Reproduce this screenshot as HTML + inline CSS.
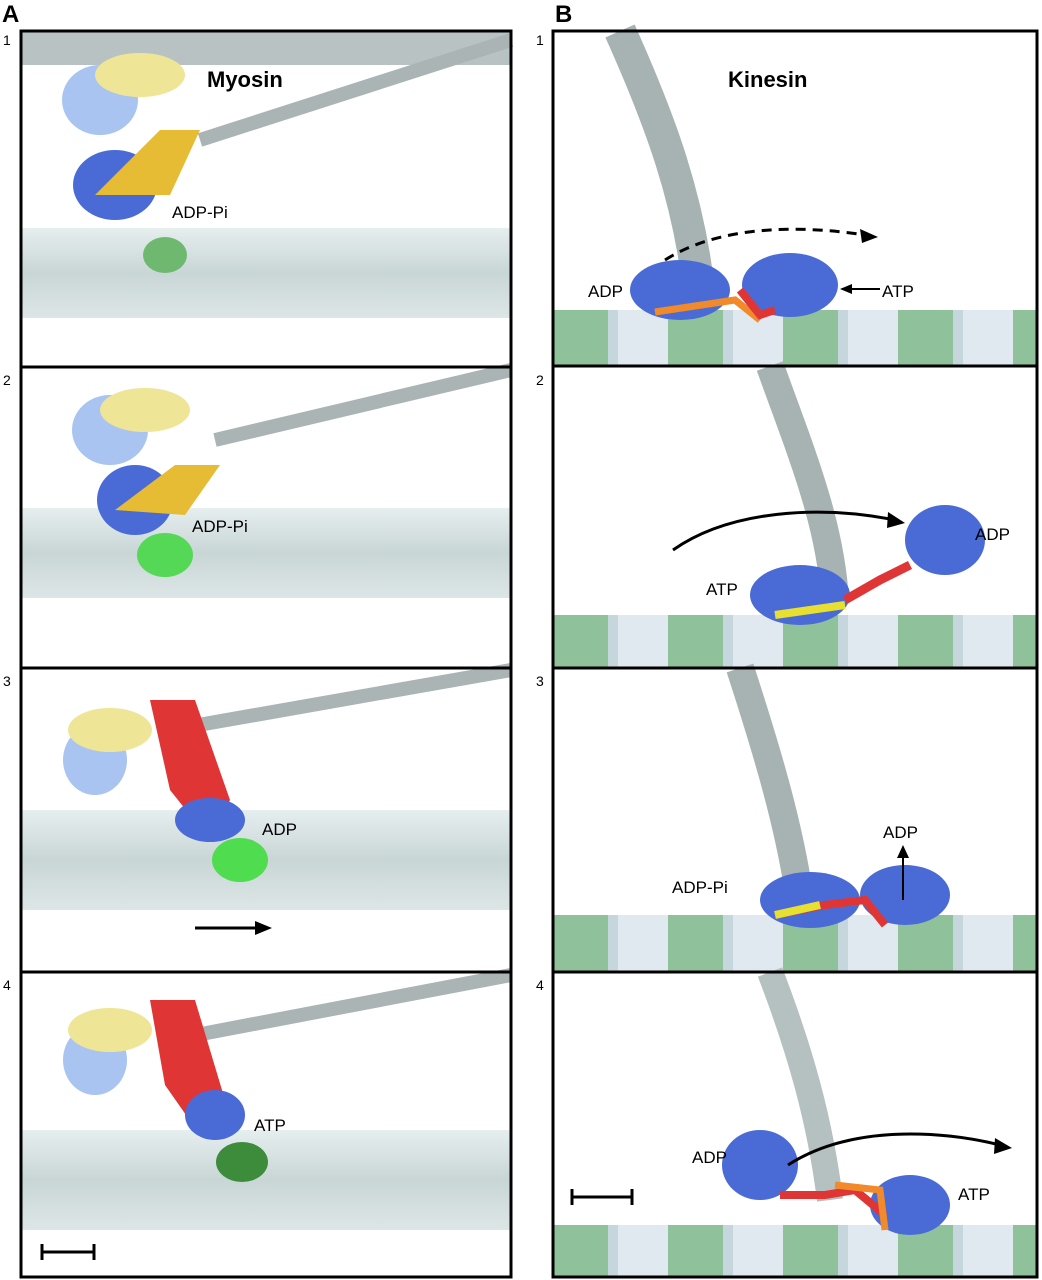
<!DOCTYPE html>
<html><head><meta charset="utf-8"><style>
html,body{margin:0;padding:0;background:#fff;}
svg{display:block;font-family:"Liberation Sans",sans-serif;}
</style></head><body>
<svg width="1042" height="1280" viewBox="0 0 1042 1280">
<defs>
<linearGradient id="actin" x1="0" y1="0" x2="0" y2="1"><stop offset="0" stop-color="#e6eeee"/><stop offset="0.5" stop-color="#c9d6d6"/><stop offset="1" stop-color="#dde6e6"/></linearGradient>
<pattern id="mt" x="553" y="0" width="115" height="60" patternUnits="userSpaceOnUse"><rect width="115" height="60" fill="#dfe9ef"/><rect x="0" width="55" height="60" fill="#8fc29a"/><rect x="55" width="10" height="60" fill="#c5d6dd"/></pattern>
</defs>
<rect width="1042" height="1280" fill="#fff"/>
<text x="2" y="22" font-size="24" font-weight="bold">A</text>
<text x="555" y="22" font-size="24" font-weight="bold">B</text>
<g font-size="14">
<text x="3" y="45">1</text><text x="3" y="385">2</text><text x="3" y="686">3</text><text x="3" y="990">4</text>
<text x="536" y="45">1</text><text x="536" y="385">2</text><text x="536" y="686">3</text><text x="536" y="990">4</text>
</g>
<g>
<rect x="21" y="31" width="490" height="1246" fill="#fff"/>
<rect x="21" y="31" width="490" height="34" fill="#b8c2c2"/>
<path d="M200 140 L511 40" stroke="#aab4b4" stroke-width="14"/>
<path d="M215 440 L511 370" stroke="#aab4b4" stroke-width="14"/>
<path d="M170 730 L511 670" stroke="#aab4b4" stroke-width="14"/>
<path d="M170 1040 L511 975" stroke="#aab4b4" stroke-width="14"/>
<rect x="21" y="228" width="490" height="90" fill="url(#actin)"/>
<rect x="21" y="508" width="490" height="90" fill="url(#actin)"/>
<rect x="21" y="810" width="490" height="100" fill="url(#actin)"/>
<rect x="21" y="1130" width="490" height="100" fill="url(#actin)"/>
<ellipse cx="100" cy="100" rx="38" ry="35" fill="#a9c4f0"/><ellipse cx="140" cy="75" rx="45" ry="22" fill="#efe596"/>
<ellipse cx="115" cy="185" rx="42" ry="35" fill="#4a6bd6"/><path d="M95 195 L160 130 L200 130 L170 195 Z" fill="#e6bc34"/>
<ellipse cx="165" cy="255" rx="22" ry="18" fill="#6fb86f"/>
<ellipse cx="110" cy="430" rx="38" ry="35" fill="#a9c4f0"/><ellipse cx="145" cy="410" rx="45" ry="22" fill="#efe596"/>
<ellipse cx="135" cy="500" rx="38" ry="35" fill="#4a6bd6"/><path d="M115 510 L175 465 L220 465 L185 515 Z" fill="#e6bc34"/>
<ellipse cx="165" cy="555" rx="28" ry="22" fill="#55d855"/>
<ellipse cx="95" cy="760" rx="32" ry="35" fill="#a9c4f0"/><ellipse cx="110" cy="730" rx="42" ry="22" fill="#efe596"/>
<path d="M150 700 L195 700 L230 800 L210 840 L170 790 Z" fill="#e03535"/><ellipse cx="210" cy="820" rx="35" ry="22" fill="#4a6bd6"/>
<ellipse cx="240" cy="860" rx="28" ry="22" fill="#4fdc4f"/>
<ellipse cx="95" cy="1060" rx="32" ry="35" fill="#a9c4f0"/><ellipse cx="110" cy="1030" rx="42" ry="22" fill="#efe596"/>
<path d="M150 1000 L195 1000 L225 1100 L200 1135 L165 1085 Z" fill="#e03535"/><ellipse cx="215" cy="1115" rx="30" ry="25" fill="#4a6bd6"/>
<ellipse cx="242" cy="1162" rx="26" ry="20" fill="#3c8c3c"/>
<text x="207" y="87" font-size="22" font-weight="bold">Myosin</text>
<text x="172" y="218" font-size="17">ADP-Pi</text>
<text x="192" y="532" font-size="17">ADP-Pi</text>
<text x="262" y="835" font-size="17">ADP</text>
<text x="254" y="1131" font-size="17">ATP</text>
<path d="M195 928 L262 928" stroke="#000" stroke-width="3"/><path d="M272 928 L255 921 L255 935 Z" fill="#000"/>
<path d="M42 1252 L94 1252 M42 1244 L42 1260 M94 1244 L94 1260" stroke="#000" stroke-width="3"/>
</g>
<g>
<rect x="553" y="310" width="484" height="56" fill="url(#mt)"/>
<rect x="553" y="615" width="484" height="53" fill="url(#mt)"/>
<rect x="553" y="915" width="484" height="57" fill="url(#mt)"/>
<rect x="553" y="1225" width="484" height="52" fill="url(#mt)"/>
<path d="M620 31 C660 120 690 200 700 300" stroke="#a7b3b3" stroke-width="32" fill="none"/>
<path d="M770 366 C800 450 830 520 835 600" stroke="#a7b3b3" stroke-width="28" fill="none"/>
<path d="M740 668 C770 760 790 830 800 900" stroke="#a7b3b3" stroke-width="28" fill="none"/>
<path d="M770 972 C800 1050 820 1120 830 1200" stroke="#b5c0c0" stroke-width="26" fill="none"/>
<ellipse cx="680" cy="290" rx="50" ry="30" fill="#4a6bd6"/><ellipse cx="790" cy="285" rx="48" ry="32" fill="#4a6bd6"/>
<path d="M655 312 L735 300 L760 320" stroke="#f08a2a" stroke-width="7" fill="none"/><path d="M740 290 L760 315 L775 310" stroke="#e03535" stroke-width="8" fill="none"/>
<ellipse cx="800" cy="595" rx="50" ry="30" fill="#4a6bd6"/><ellipse cx="945" cy="540" rx="40" ry="35" fill="#4a6bd6"/>
<path d="M775 615 L845 605" stroke="#e8e030" stroke-width="8"/><path d="M845 600 L880 580 L910 565" stroke="#e03535" stroke-width="9" fill="none"/>
<ellipse cx="810" cy="900" rx="50" ry="28" fill="#4a6bd6"/><ellipse cx="905" cy="895" rx="45" ry="30" fill="#4a6bd6"/>
<path d="M775 915 L825 905 L865 900 L885 925" stroke="#e03535" stroke-width="8" fill="none"/><path d="M775 915 L820 905" stroke="#e8e030" stroke-width="8"/>
<ellipse cx="760" cy="1165" rx="38" ry="35" fill="#4a6bd6"/><ellipse cx="910" cy="1205" rx="40" ry="30" fill="#4a6bd6"/>
<path d="M780 1195 L825 1195 L855 1190 L885 1215" stroke="#e03535" stroke-width="8" fill="none"/><path d="M835 1185 L880 1190 L885 1230" stroke="#f08a2a" stroke-width="7" fill="none"/>
<text x="728" y="87" font-size="22" font-weight="bold">Kinesin</text>
<text x="588" y="297" font-size="17">ADP</text>
<text x="882" y="297" font-size="17">ATP</text>
<path d="M842 289 L880 289" stroke="#000" stroke-width="2"/><path d="M840 289 L852 284 L852 294 Z" fill="#000"/>
<path d="M665 260 C720 225 800 225 865 235" stroke="#000" stroke-width="3" stroke-dasharray="10 7" fill="none"/><path d="M878 237 L860 229 L862 243 Z" fill="#000"/>
<text x="975" y="540" font-size="17">ADP</text>
<text x="706" y="595" font-size="17">ATP</text>
<path d="M673 550 C730 510 820 505 895 520" stroke="#000" stroke-width="3" fill="none"/><path d="M905 523 L888 512 L887 528 Z" fill="#000"/>
<text x="883" y="838" font-size="17">ADP</text>
<path d="M903 900 L903 852" stroke="#000" stroke-width="2"/><path d="M903 845 L897 858 L909 858 Z" fill="#000"/>
<text x="672" y="893" font-size="17">ADP-Pi</text>
<text x="692" y="1163" font-size="17">ADP</text>
<text x="958" y="1200" font-size="17">ATP</text>
<path d="M788 1165 C850 1125 940 1130 1000 1145" stroke="#000" stroke-width="3" fill="none"/><path d="M1012 1148 L995 1138 L994 1154 Z" fill="#000"/>
<path d="M572 1197 L632 1197 M572 1189 L572 1205 M632 1189 L632 1205" stroke="#000" stroke-width="3"/>
</g>
<g fill="none" stroke="#000" stroke-width="3">
<rect x="21" y="31" width="490" height="1246"/>
<path d="M21 367 H511 M21 668 H511 M21 972 H511"/>
<rect x="553" y="31" width="484" height="1246"/>
<path d="M553 366 H1037 M553 668 H1037 M553 972 H1037"/>
</g>
</svg>
</body></html>
